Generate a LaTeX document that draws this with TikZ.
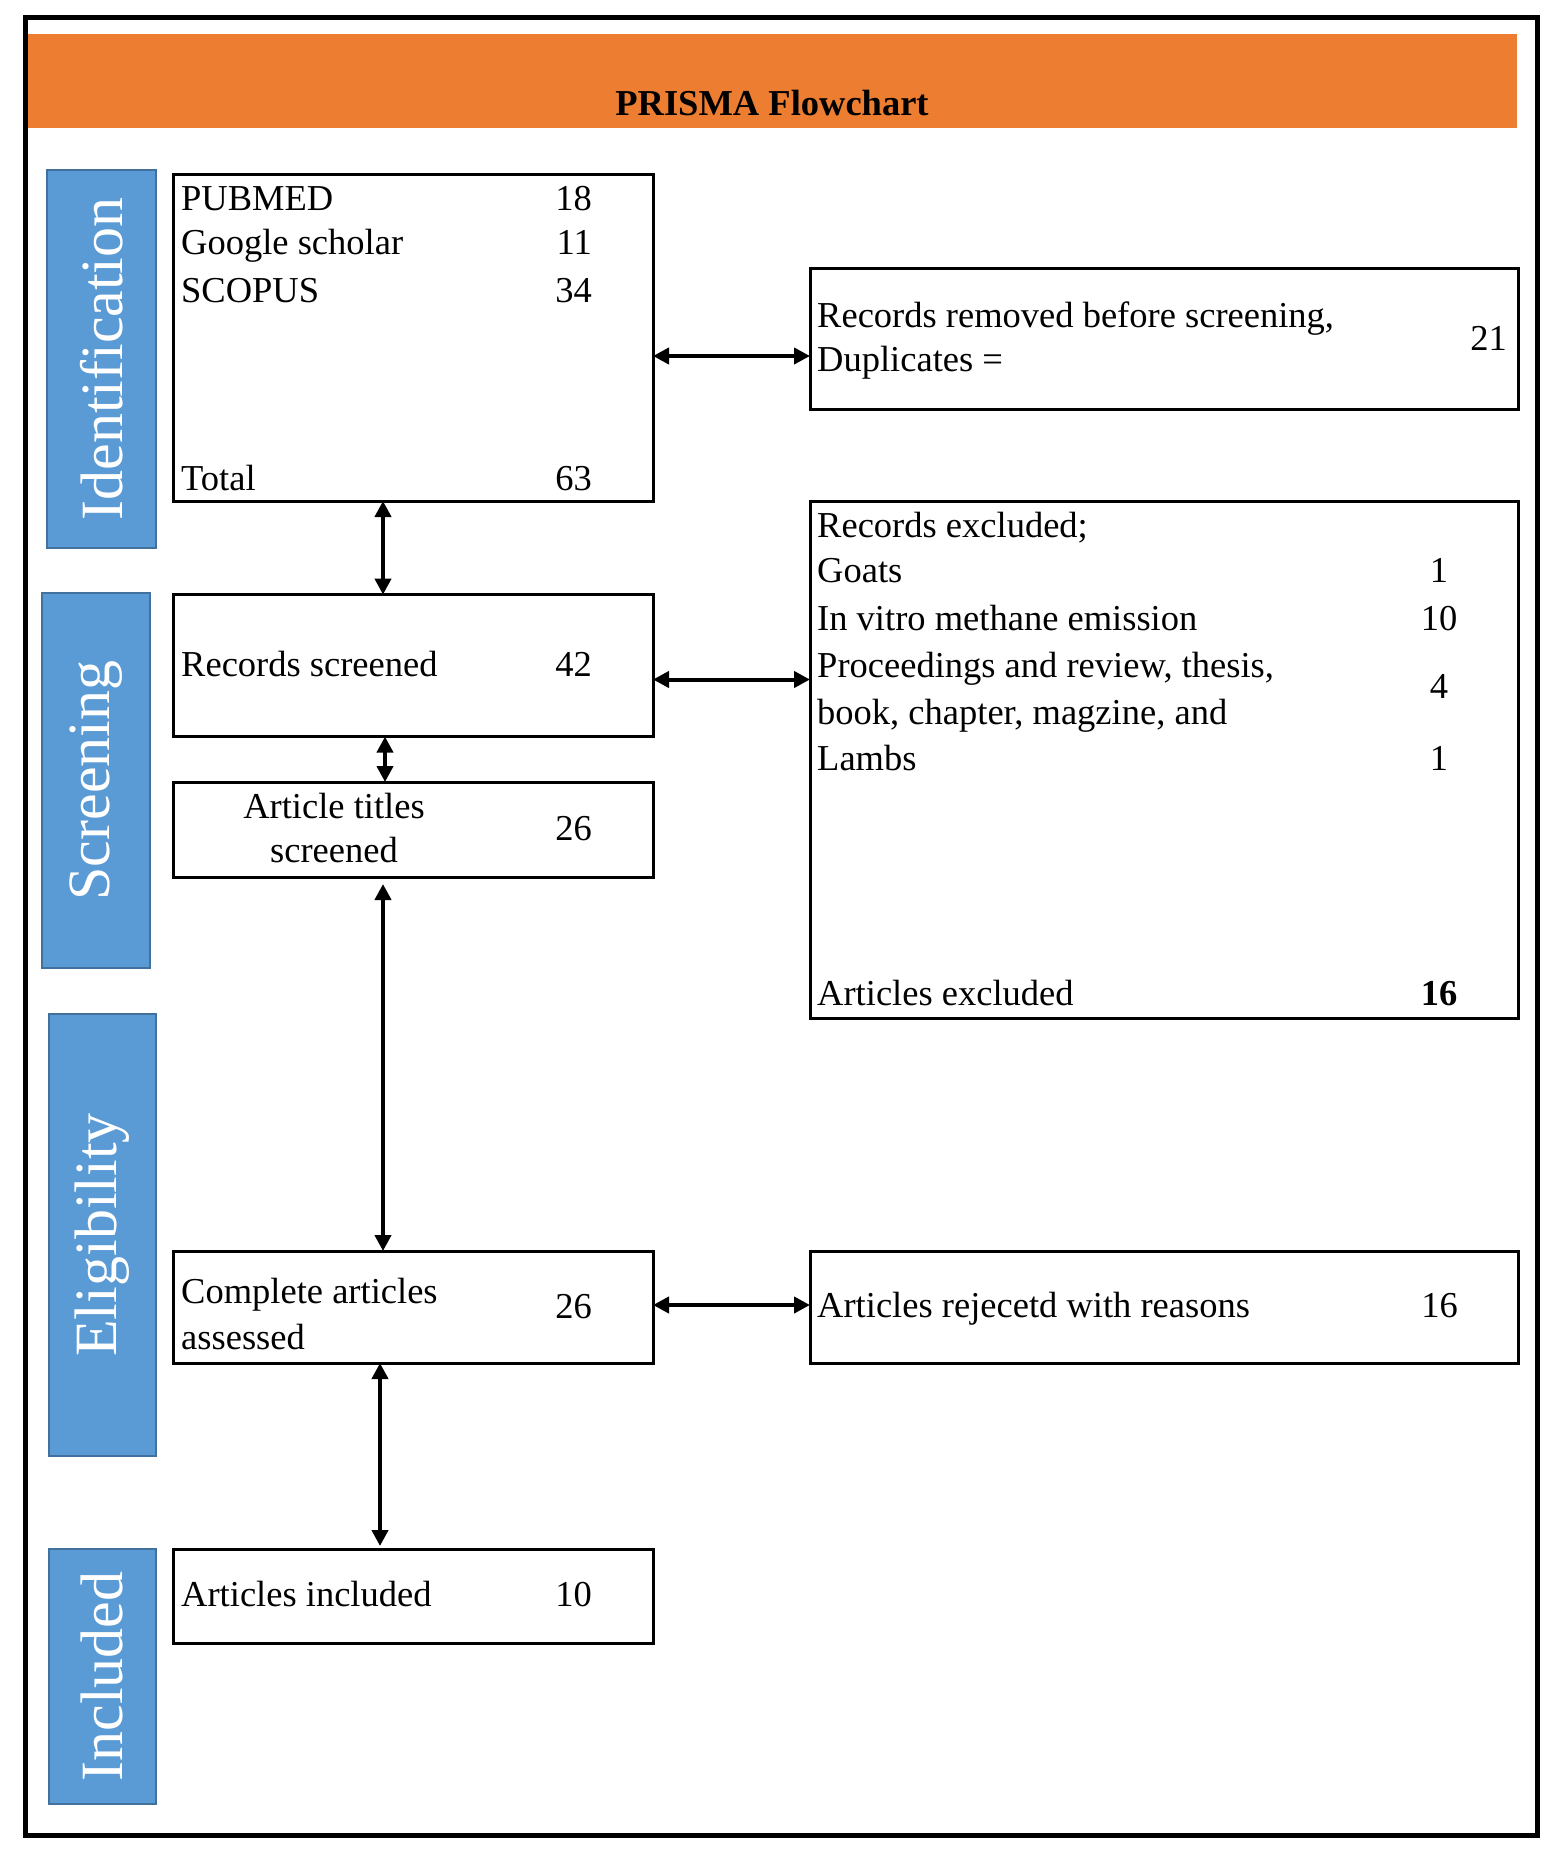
\documentclass[tikz,border=0pt]{standalone}
\usepackage{fontspec}
\setmainfont{Liberation Serif}
\usetikzlibrary{arrows.meta}
\definecolor{orng}{HTML}{ED7D31}
\definecolor{blu}{HTML}{5B9BD5}
\definecolor{bludk}{HTML}{41719C}
\newcommand\myfs{\fontsize{36.5}{44}\selectfont}
\newcommand\lanefs{\fontsize{60}{70}\selectfont}
\begin{document}
\begin{tikzpicture}[x=1pt,y=-1pt,
  box/.style={draw=black,line width=3pt,anchor=north west,inner sep=0pt,outer sep=0pt},
  lane/.style={draw=bludk,fill=blu,line width=2pt,anchor=north west,inner sep=0pt,outer sep=0pt},
  lanetxt/.style={rotate=90,text=white,font=\lanefs,inner sep=0pt},
  txt/.style={anchor=base west,inner sep=0pt,font=\myfs},
  num/.style={anchor=base east,inner sep=0pt,font=\myfs},
  numc/.style={anchor=base,inner sep=0pt,font=\myfs},
  dar/.style={line width=4pt,{Triangle[length=16pt,width=16pt]}-{Triangle[length=16pt,width=16pt]}}]
\useasboundingbox (0,0) rectangle (1555,1855);
% outer frame and header
\node[draw=black,line width=4.5pt,anchor=north west,minimum width=1512pt,minimum height=1818pt,inner sep=0pt] (frame) at (23,15) {};
\node[fill=orng,anchor=north west,minimum width=1489pt,minimum height=94pt,inner sep=0pt] (hdr) at (28,34) {};
\node[anchor=base,inner sep=0pt,font=\myfs\bfseries] (title) at (772,115) {PRISMA Flowchart};
% lanes
\node[lane,minimum width=109pt,minimum height=378pt] (lid) at (47,170) {};
\node[lanetxt] (lidt) at (lid.center) {Identification};
\node[lane,minimum width=108pt,minimum height=375pt] (lsc) at (42,593) {};
\node[lanetxt] (lsct) at (lsc.center) {Screening};
\node[lane,minimum width=107pt,minimum height=442pt] (lel) at (48.5,1014) {};
\node[lanetxt] (lelt) at (lel.center) {Eligibility};
\node[lane,minimum width=107pt,minimum height=255pt] (lin) at (48.5,1549) {};
\node[lanetxt] (lint) at (lin.center) {Included};
% left column boxes
\node[box,minimum width=479.5pt,minimum height=327pt] (pub) at (173.5,174) {};
\node[txt] (p1) at (181,210) {PUBMED};
\node[num] (p1n) at (592,210) {18};
\node[txt] (p2) at (181,254.5) {Google scholar};
\node[num] (p2n) at (592,254.5) {11};
\node[txt] (p3) at (181,302) {SCOPUS};
\node[num] (p3n) at (592,302) {34};
\node[txt] (p4) at (181,490) {Total};
\node[num] (p4n) at (592,490) {63};

\node[box,minimum width=479.5pt,minimum height=142pt] (scr) at (173.5,594.6) {};
\node[txt] (s1) at (181,676) {Records screened};
\node[num] (s1n) at (592,676) {42};

\node[box,minimum width=479.5pt,minimum height=95pt] (tit) at (173.5,782) {};
\node[anchor=base,inner sep=0pt,font=\myfs] (t1) at (334,818) {Article titles};
\node[anchor=base,inner sep=0pt,font=\myfs] (t2) at (334,862.5) {screened};
\node[num] (t1n) at (592,840) {26};

\node[box,minimum width=479.5pt,minimum height=112pt] (cmp) at (173.5,1251) {};
\node[txt] (c1) at (181,1303.6) {Complete articles};
\node[txt] (c2) at (181,1349) {assessed};
\node[num] (c1n) at (592,1318) {26};

\node[box,minimum width=479.5pt,minimum height=94.6pt] (inc) at (173.5,1549) {};
\node[txt] (i1) at (181,1606) {Articles included};
\node[num] (i1n) at (592,1606) {10};

% right column boxes
\node[box,minimum width=708.5pt,minimum height=141pt] (rem) at (810,268) {};
\node[txt] (r1) at (817,327) {Records removed before screening,};
\node[txt] (r2) at (817,371) {Duplicates =};
\node[num] (r1n) at (1507,350) {21};

\node[box,minimum width=708.5pt,minimum height=517pt] (exc) at (810,501) {};
\node[txt] (e1) at (817,537) {Records excluded;};
\node[txt] (e2) at (817,582.6) {Goats};
\node[numc] (e2n) at (1439,582.6) {1};
\node[txt] (e3) at (817,630) {In vitro methane emission};
\node[numc] (e3n) at (1439,630) {10};
\node[txt] (e4) at (817,677.7) {Proceedings and review, thesis,};
\node[txt] (e5) at (817,724.5) {book, chapter, magzine, and};
\node[numc] (e4n) at (1439,698.6) {4};
\node[txt] (e6) at (817,770.5) {Lambs};
\node[numc] (e6n) at (1439,770.5) {1};
\node[txt] (e7) at (817,1005) {Articles excluded};
\node[numc] (e7n) at (1439,1005) {\textbf{16}};

\node[box,minimum width=708.5pt,minimum height=112pt] (rej) at (810,1251) {};
\node[txt] (j1) at (817,1317) {Articles rejecetd with reasons};
\node[numc] (j1n) at (1439.5,1317) {16};

% connector guides
\coordinate (v1) at (383,0);
\coordinate (v2) at (385,0);
\coordinate (v3) at (383,0);
\coordinate (v4) at (380,0);
\coordinate (h1) at (0,356);
\coordinate (h2) at (0,679.5);
\coordinate (h3) at (0,1305);
% connectors
\draw[dar] (pub.south -| v1) -- (scr.north -| v1);
\draw[dar] (scr.south -| v2) -- (tit.north -| v2);
\draw[dar,shorten <=7pt] (tit.south -| v3) -- (cmp.north -| v3);
\draw[dar,shorten >=3pt] (cmp.south -| v4) -- (inc.north -| v4);
\draw[dar] (pub.east |- h1) -- (rem.west |- h1);
\draw[dar] (scr.east |- h2) -- (exc.west |- h2);
\draw[dar] (cmp.east |- h3) -- (rej.west |- h3);
\end{tikzpicture}
\end{document}
